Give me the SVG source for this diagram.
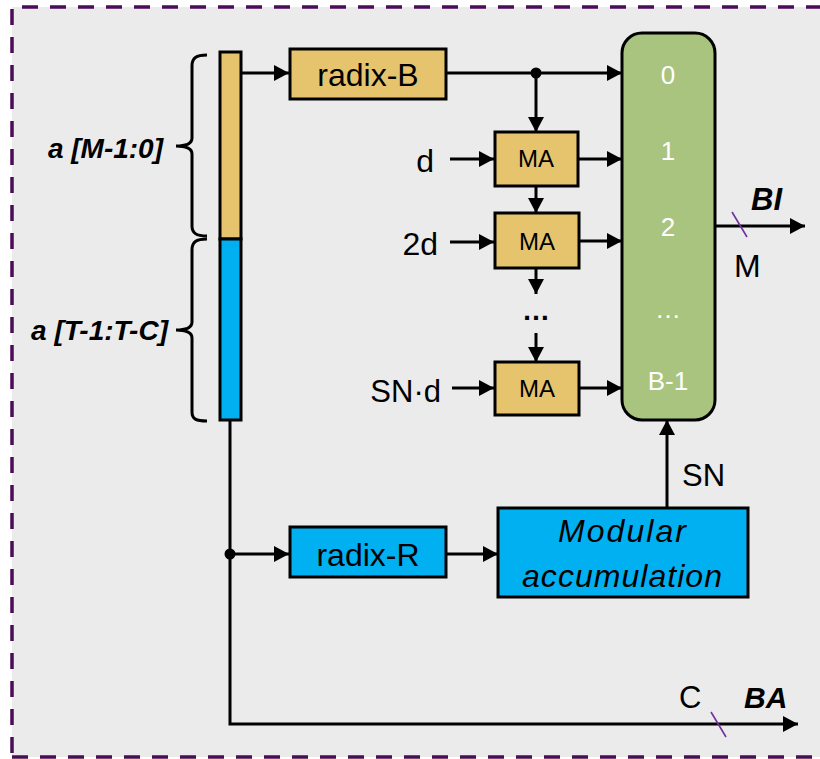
<svg xmlns="http://www.w3.org/2000/svg" width="820" height="759" viewBox="0 0 820 759">
<defs>
<marker id="ah" markerUnits="userSpaceOnUse" markerWidth="17" markerHeight="17" refX="15" refY="8" orient="auto"><path d="M0,0 L15,8 L0,16 z" fill="#000"/></marker>
<style>
.ln{stroke:#000;stroke-width:3;fill:none}
.ar{stroke:#000;stroke-width:3;fill:none;marker-end:url(#ah)}
.bx{stroke:#000;stroke-width:3}
.tan{fill:#E6C46E}
.blue{fill:#00B0F0}
.t{font-family:"Liberation Sans",Arial,sans-serif;fill:#000}
.w{font-family:"Liberation Sans",Arial,sans-serif;fill:#fff;font-size:26px;text-anchor:middle}
.bi{font-weight:bold;font-style:italic}
.dash{stroke:#4B0D55;stroke-width:3.5;stroke-dasharray:16 12;fill:none}
.sl{stroke:#7030A0;stroke-width:1.6}
</style>
</defs>
<rect x="12" y="7" width="808" height="750" fill="#EBEBEB"/>
<g id="border">
<line class="dash" x1="22" y1="7" x2="820" y2="7"/>
<line class="dash" x1="12" y1="9" x2="12" y2="757"/>
<line class="dash" x1="12" y1="757" x2="820" y2="757"/>
</g>
<g id="bar">
<rect class="bx tan" x="220" y="52" width="21" height="187" stroke-width="2.5"/>
<rect class="bx blue" x="220" y="239" width="21" height="181" stroke-width="2.5"/>
</g>
<g id="brace-top">
<path class="ln" d="M207,55 C196,55 192,58 192,66 L192,138 C192,143 188,146 176,146 C188,146 192,149 192,154 L192,226 C192,233 196,236 207,236"/>
<text class="t bi" x="163" y="158" font-size="28" text-anchor="end">a [M-1:0]</text>
</g>
<g id="brace-bottom">
<path class="ln" d="M207,239 C196,239 192,242 192,250 L192,322 C192,327 188,330 176,330 C188,330 192,333 192,338 L192,412 C192,419 196,421 207,421"/>
<text class="t bi" x="168" y="340" font-size="28" text-anchor="end">a [T-1:T-C]</text>
</g>
<g id="radix-B">
<rect class="bx tan" x="290" y="49" width="156" height="50"/>
<text class="t" x="368" y="86" font-size="32" text-anchor="middle">radix-B</text>
</g>
<g id="MA1">
<rect class="bx tan" x="495" y="132" width="83" height="54"/>
<text class="t" x="536" y="167" font-size="24" text-anchor="middle">MA</text>
</g>
<g id="MA2">
<rect class="bx tan" x="495" y="213" width="84" height="55"/>
<text class="t" x="537" y="250" font-size="24" text-anchor="middle">MA</text>
</g>
<g id="MA3">
<rect class="bx tan" x="495" y="362" width="84" height="53"/>
<text class="t" x="537" y="397" font-size="24" text-anchor="middle">MA</text>
</g>
<g id="green">
<rect x="622" y="33" width="93" height="387" rx="20" ry="20" fill="#A9C47F" stroke="#000" stroke-width="3"/>
<text class="w" x="668" y="84">0</text>
<text class="w" x="668" y="160">1</text>
<text class="w" x="668" y="236">2</text>
<text class="w" x="668" y="318" font-size="20">…</text>
<text class="w" x="668" y="390">B-1</text>
</g>
<g id="radix-R">
<rect class="bx blue" x="290" y="527" width="156" height="50"/>
<text class="t" x="368" y="566" font-size="32" text-anchor="middle">radix-R</text>
</g>
<g id="modular">
<rect class="bx blue" x="498" y="508" width="250" height="89"/>
<text class="t" x="622" y="542" font-size="32" font-style="italic" text-anchor="middle" textLength="128" lengthAdjust="spacing">Modular</text>
<text class="t" x="622" y="587" font-size="32" font-style="italic" text-anchor="middle" textLength="200" lengthAdjust="spacing">accumulation</text>
</g>
<g id="labels">
<text class="t" x="434" y="172" font-size="32" text-anchor="end">d</text>
<text class="t" x="438" y="255" font-size="32" text-anchor="end">2d</text>
<text class="t" x="441" y="402" font-size="31" text-anchor="end">SN·d</text>
<text class="t" x="536" y="320" font-size="28" font-weight="bold" text-anchor="middle">…</text>
<text class="t bi" x="751" y="210" font-size="31">BI</text>
<text class="t" x="734" y="277" font-size="32">M</text>
<text class="t" x="682" y="486" font-size="31">SN</text>
<text class="t" x="679" y="708" font-size="31">C</text>
<text class="t bi" x="744" y="708" font-size="30">BA</text>
</g>
<g id="connectors">
<line class="ar" x1="241" y1="73" x2="289" y2="73"/>
<line class="ar" x1="446" y1="73" x2="622" y2="73"/>
<circle cx="536" cy="73" r="5.5" fill="#000"/>
<line class="ar" x1="536" y1="73" x2="536" y2="132"/>
<line class="ar" x1="450" y1="159" x2="494" y2="159"/>
<line class="ar" x1="578" y1="159" x2="622" y2="159"/>
<line class="ar" x1="536" y1="186" x2="536" y2="213"/>
<line class="ar" x1="450" y1="242" x2="494" y2="242"/>
<line class="ar" x1="579" y1="241" x2="622" y2="241"/>
<line class="ar" x1="536" y1="268" x2="536" y2="294"/>
<line class="ar" x1="536" y1="333" x2="536" y2="362"/>
<line class="ar" x1="452" y1="388" x2="494" y2="388"/>
<line class="ar" x1="579" y1="388" x2="622" y2="388"/>
<line class="ar" x1="715" y1="226" x2="805" y2="226"/>
<line class="sl" x1="732" y1="212" x2="747" y2="237"/>
<path class="ar" d="M230,420 L230,724 L798,724"/>
<line class="sl" x1="711" y1="712" x2="726" y2="737"/>
<circle cx="230" cy="554" r="5.5" fill="#000"/>
<line class="ar" x1="230" y1="554" x2="289" y2="554"/>
<line class="ar" x1="446" y1="554" x2="498" y2="554"/>
<line class="ar" x1="667" y1="508" x2="667" y2="420"/>
</g>
</svg>
